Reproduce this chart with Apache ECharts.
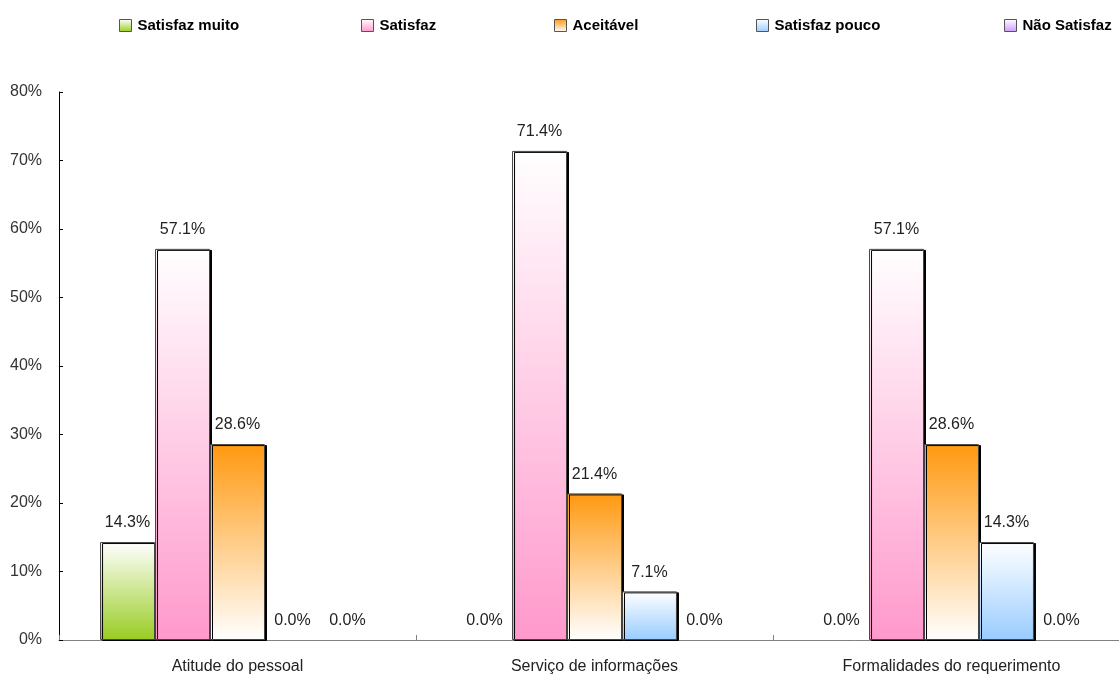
<!DOCTYPE html>
<html>
<head>
<meta charset="utf-8">
<script src="https://cdn.jsdelivr.net/npm/echarts@6/dist/echarts.min.js"></script>
<style>
  html, body { margin: 0; padding: 0; background: #fff; }
  #chart { width: 1119px; height: 679px; }
</style>
</head>
<body>
<div id="chart"></div>
<script>
// dados
const categories = ['Atitude do pessoal', 'Serviço de informações', 'Formalidades do requerimento']
const seriesNames = ['Satisfaz muito', 'Satisfaz', 'Aceitável', 'Satisfaz pouco', 'Não Satisfaz']
const satisfazMuito = [14.3, 0, 0]
const satisfaz = [57.1, 71.4, 57.1]
const aceitavel = [28.6, 21.4, 28.6]
const satisfazPouco = [0, 7.1, 14.3]
const naoSatisfaz = [0, 0, 0]
const yTicks = [0, 10, 20, 30, 40, 50, 60, 70, 80]

const seriesData = [satisfazMuito, satisfaz, aceitavel, satisfazPouco, naoSatisfaz]

// posição horizontal de cada item da legenda
const legendLeft = [119, 361, 554, 756, 1004]

// gradientes: [cor topo, cor base]
const gradients = [
  ['#ffffff', '#99cc22'],
  ['#ffffff', '#ff99cc'],
  ['#ff9910', '#ffffff'],
  ['#ffffff', '#99ccff'],
  ['#ffffff', '#cc99ff']
]

function grad(pair) {
  return new echarts.graphic.LinearGradient(0, 0, 0, 1, [
    { offset: 0, color: pair[0] },
    { offset: 1, color: pair[1] }
  ])
}

const font = '"Liberation Sans", Arial, sans-serif'

const chart = echarts.init(document.getElementById('chart'))

const legends = seriesNames.map((name, i) => ({
  top: 18,
  left: legendLeft[i],
  padding: 0,
  itemWidth: 12,
  itemHeight: 12,
  icon: 'rect',
  itemStyle: { borderColor: '#555', borderWidth: 1, shadowBlur: 0, shadowOffsetX: 0, shadowOffsetY: 0, shadowColor: 'rgba(0,0,0,0)' },
  textStyle: { fontFamily: font, fontSize: 15, fontWeight: 'bold', color: '#000', padding: [0, 0, 0, 1] },
  data: [name]
}))

const option = {
  animation: false,
  textStyle: { fontFamily: font },
  legend: legends,
  grid: {
    left: 59,
    top: 92,
    width: 1071,
    height: 548,
    containLabel: false,
    outerBoundsMode: 'none'
  },
  xAxis: {
    type: 'category',
    data: categories,
    axisLine: { lineStyle: { color: '#808080', width: 1 } },
    axisTick: { show: true, inside: true, length: 5, lineStyle: { color: '#808080' } },
    axisLabel: { color: '#222', fontSize: 16, margin: 19, fontFamily: font }
  },
  yAxis: {
    type: 'value',
    min: yTicks[0],
    max: yTicks[yTicks.length - 1],
    interval: 10,
    axisLine: { show: true, lineStyle: { color: '#000', width: 1 } },
    axisTick: { show: true, inside: true, length: 4, lineStyle: { color: '#000' } },
    splitLine: { show: false },
    axisLabel: { color: '#333', fontSize: 16, margin: 17, fontFamily: font, formatter: '{value}%' }
  },
  series: seriesNames.map((name, i) => ({
    name: name,
    type: 'bar',
    // barras de valor zero ficam invisíveis, só com o rótulo
    data: seriesData[i].map(v => v === 0
      ? { value: v, itemStyle: { borderWidth: 0, shadowColor: 'rgba(0,0,0,0)', opacity: 0 } }
      : v),
    barGap: '0%',
    barCategoryGap: '23%',
    itemStyle: {
      color: grad(gradients[i]),
      borderColor: '#444',
      borderWidth: 1,
      shadowColor: '#000',
      shadowBlur: 0,
      shadowOffsetX: 2,
      shadowOffsetY: 1
    },
    label: {
      show: true,
      position: 'top',
      distance: 11,
      color: '#222',
      fontSize: 16,
      fontFamily: font,
      opacity: 1,
      formatter: p => p.value.toFixed(1) + '%'
    }
  }))
}

chart.setOption(option)
</script>
</body>
</html>
